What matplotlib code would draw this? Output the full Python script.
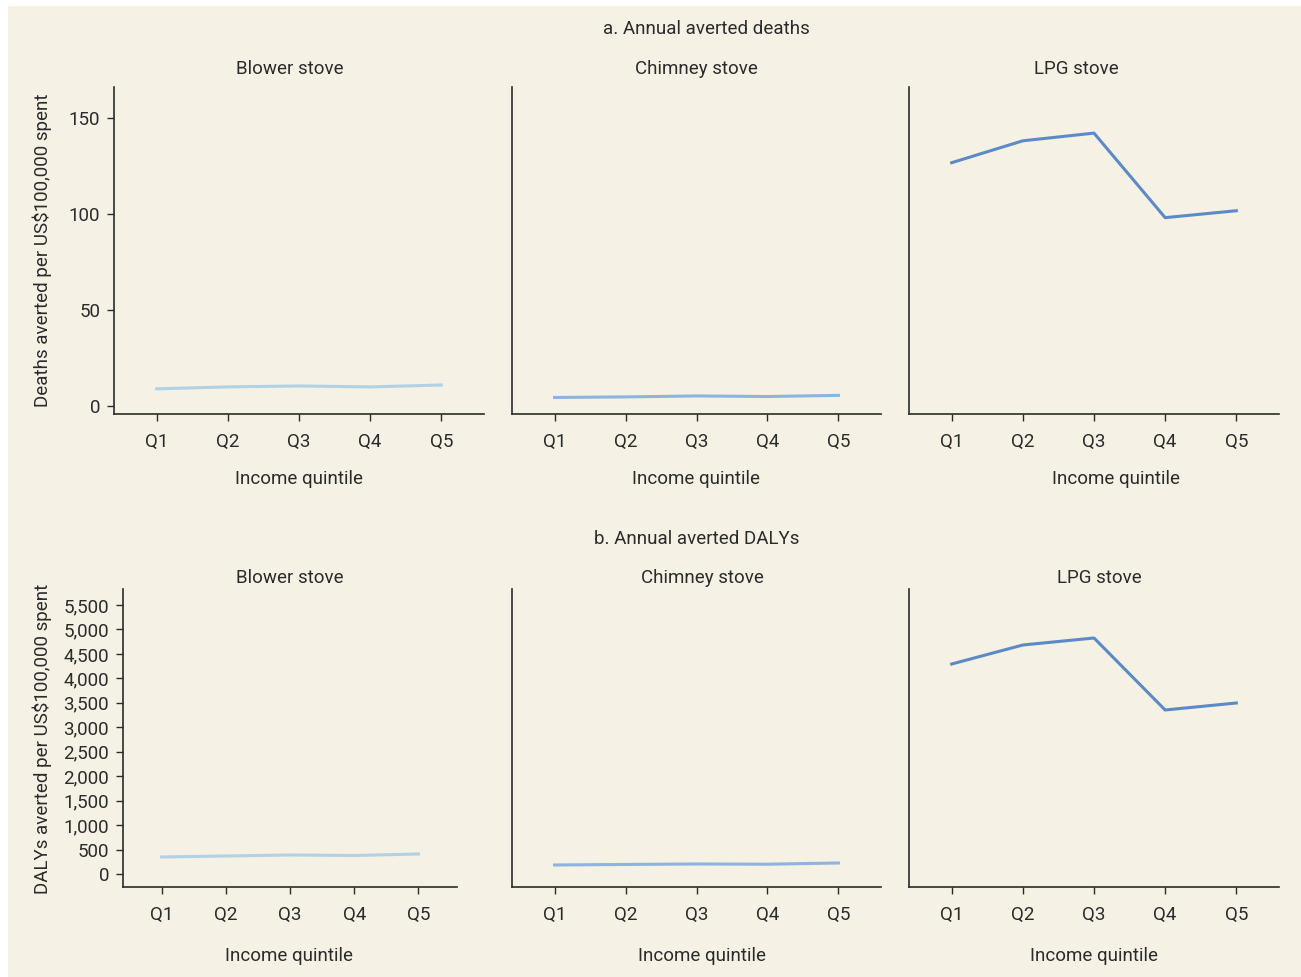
import matplotlib.pyplot as plt
from matplotlib.patches import Rectangle
from matplotlib.ticker import FuncFormatter

# donnees
quintiles = ["Q1", "Q2", "Q3", "Q4", "Q5"]
stoves = ["Blower stove", "Chimney stove", "LPG stove"]

deaths_blower = [8.9, 9.9, 10.4, 9.9, 10.9]
deaths_chimney = [4.4, 4.7, 5.2, 4.9, 5.5]
deaths_lpg = [126.6, 138.0, 142.0, 98.0, 101.6]

dalys_blower = [348, 368, 389, 378, 409]
dalys_chimney = [184, 195, 205, 200, 225]
dalys_lpg = [4294, 4683, 4826, 3354, 3497]

deaths_ticks = [0, 50, 100, 150]
dalys_ticks = list(range(0, 5501, 500))

colors = ["#b3d1e5", "#8eb3dd", "#5b8ac6"]
bg = "#f5f1e4"
ink = "#2b2b2b"

plt.rcParams["font.family"] = ["Roboto", "DejaVu Sans"]
plt.rcParams["text.color"] = ink

W, H = 1301, 977
fig = plt.figure(figsize=(W / 100, H / 100), dpi=100, facecolor="white")
fig.patches.append(Rectangle((8 / W, 0), 1 - 8 / W, 1 - 6 / H,
                             transform=fig.transFigure, facecolor=bg,
                             edgecolor="none", zorder=-10))


def px_axes(x0, x1, y0, y1):
    # positions en pixels (origine en haut a gauche)
    return fig.add_axes([x0 / W, 1 - y1 / H, (x1 - x0) / W, (y1 - y0) / H])


def ftext(x, y, s, **kw):
    fig.text(x / W, 1 - (y + 2) / H, s, ha="center", va="center", fontsize=13.5, **kw)


def style(ax, show_y):
    ax.set_facecolor("none")
    for s in ["top", "right"]:
        ax.spines[s].set_visible(False)
    for s in ["left", "bottom"]:
        ax.spines[s].set_color(ink)
        ax.spines[s].set_linewidth(1.2)
    ax.set_xlim(-0.6, 4.6)
    ax.set_xticks(range(len(quintiles)))
    ax.set_xticklabels(quintiles)
    ax.tick_params(axis="x", length=5, width=1, color=ink, pad=8.5,
                   labelsize=13.5, labelcolor=ink)
    if show_y:
        ax.tick_params(axis="y", length=5, width=1, color=ink, pad=5,
                       labelsize=13.5, labelcolor=ink)
    else:
        ax.tick_params(axis="y", left=False, labelleft=False)


# a. deces evites
top = [(114, 484), (512, 881), (909, 1279)]
series_a = [deaths_blower, deaths_chimney, deaths_lpg]
for i, (x0, x1) in enumerate(top):
    ax = px_axes(x0, x1, 87, 414)
    ax.plot(range(len(quintiles)), series_a[i], color=colors[i], lw=2.2)
    ax.set_ylim(-4.2, 166)
    ax.set_yticks(deaths_ticks)
    style(ax, i == 0)

# b. DALYs evites
bot = [(123, 457), (512, 881), (909, 1279)]
series_b = [dalys_blower, dalys_chimney, dalys_lpg]
for i, (x0, x1) in enumerate(bot):
    ax = px_axes(x0, x1, 589, 887)
    ax.plot(range(len(quintiles)), series_b[i], color=colors[i], lw=2.2)
    ax.set_ylim(-266, 5828)
    ax.set_yticks(dalys_ticks)
    ax.yaxis.set_major_formatter(FuncFormatter(lambda v, p: f"{int(v):,}"))
    style(ax, i == 0)

# titres et libelles
ftext(706, 27, "a. Annual averted deaths")
ftext(697, 537, "b. Annual averted DALYs")
for x, s in zip([290, 696, 1076], stoves):
    ftext(x, 67, s)
for x, s in zip([290, 702, 1099], stoves):
    ftext(x, 576, s)
for x in [299, 696, 1116]:
    ftext(x, 477, "Income quintile")
for x in [289, 702, 1094]:
    ftext(x, 954, "Income quintile")
ftext(42, 248, "Deaths averted per US$100,000 spent", rotation=90)
ftext(42, 737, "DALYs averted per US$100,000 spent", rotation=90)

fig.savefig("out.png", dpi=100, facecolor=fig.get_facecolor())
